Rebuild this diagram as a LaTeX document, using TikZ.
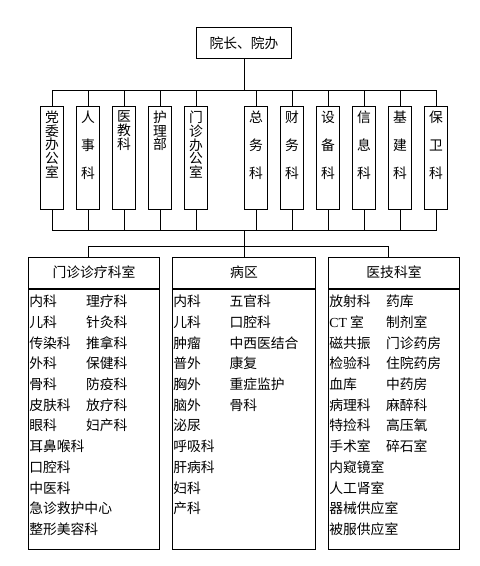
\documentclass[tikz,border=0pt]{standalone}
\usepackage{fontspec}
\setmainfont{Noto Sans CJK SC}
\newfontfamily\latinserif{Liberation Serif}

\begin{document}
\begin{tikzpicture}[x=1pt,y=-1pt,line width=1pt,
  box/.style={draw,inner sep=0,font=\fontsize{13.8}{14}\selectfont},
  vbox/.style={draw,minimum width=23pt,minimum height=103pt,inner sep=0,anchor=north},
  vtext/.style={align=center,inner sep=0,anchor=north,yshift=-5pt},
  item/.style={anchor=west,inner sep=0,text height=12.1pt,text depth=1.7pt,font=\fontsize{13.8}{14}\selectfont}]

\useasboundingbox (0,0) rectangle (480,566);

\def\rowTop{301.5}
\def\dy{20.7}

% top
\node[box,minimum width=95pt,minimum height=31pt] (head) at (244,43) {院长、院办};

% offices
\foreach \x/\t/\sp [count=\i] in {52/{党\\委\\办\\公\\室}/13.7, 88/{人\\事\\科}/28,
    124/{医\\教\\科}/13.7, 160/{护\\理\\部}/13.7, 196/{门\\诊\\办\\公\\室}/13.7,
    256/{总\\务\\科}/28, 292/{财\\务\\科}/28, 328/{设\\备\\科}/28,
    364/{信\\息\\科}/28, 400/{基\\建\\科}/28, 436/{保\\卫\\科}/28}
  \node[vbox,label={[vtext,font=\fontsize{13.8}{\sp}\selectfont]north:{\t}}] (d\i) at (\x,105.5) {};

\coordinate (busA) at (244,90.5);
\coordinate (busB) at (244,230.5);
\coordinate (busC) at (244,246.5);

\draw (head.south) -- (busA);
\draw (d1.north) |- (busA) -| (d11.north);
\draw (d1.south) |- (busB) -| (d11.south);
\foreach \i in {2,...,10} {
  \draw (d\i.north) -- (d\i.north |- busA);
  \draw (d\i.south) -- (d\i.south |- busB);
}

% three groups
\node[box,minimum width=131pt,minimum height=31pt,anchor=north] (mz) at (94,256.5) {门诊诊疗科室};
\node[draw,minimum width=131pt,minimum height=260pt,anchor=north] (mzb) at (mz.south) {};
\node[box,minimum width=143pt,minimum height=31pt,anchor=north] (bq) at (244,256.5) {病区};
\node[draw,minimum width=143pt,minimum height=260pt,anchor=north] (bqb) at (bq.south) {};
\node[box,minimum width=131pt,minimum height=31pt,anchor=north] (yj) at (394,256.5) {医技科室};
\node[draw,minimum width=131pt,minimum height=260pt,anchor=north] (yjb) at (yj.south) {};

\draw (busB) -- (bq.north);
\draw ([xshift=-5.5pt]mz.north) |- (busC) -| ([xshift=-5.5pt]yj.north);

% lists
\foreach \t [count=\i] in {内科,儿科,传染科,外科,骨科,皮肤科,眼科,耳鼻喉科,口腔科,中医科,急诊救护中心,整形美容科}
  \node[item] (mzA\i) at ([xshift=0.8pt]mzb.west |- 0,{\rowTop+(\i-1)*\dy}) {\t};
\foreach \t [count=\i] in {理疗科,针灸科,推拿科,保健科,防疫科,放疗科,妇产科}
  \node[item] (mzB\i) at ([xshift=57.5pt]mzb.west |- 0,{\rowTop+(\i-1)*\dy}) {\t};

\foreach \t [count=\i] in {内科,儿科,肿瘤,普外,胸外,脑外,泌尿,呼吸科,肝病科,妇科,产科}
  \node[item] (bqA\i) at ([xshift=0.8pt]bqb.west |- 0,{\rowTop+(\i-1)*\dy}) {\t};
\foreach \t [count=\i] in {五官科,口腔科,中西医结合,康复,重症监护,骨科}
  \node[item] (bqB\i) at ([xshift=57pt]bqb.west |- 0,{\rowTop+(\i-1)*\dy}) {\t};

\foreach \t [count=\i] in {放射科,{{\latinserif CT} 室},磁共振,检验科,血库,病理科,特捡科,手术室,内窥镜室,人工肾室,器械供应室,被服供应室}
  \node[item] (yjA\i) at ([xshift=0.8pt]yjb.west |- 0,{\rowTop+(\i-1)*\dy}) {\t};
\foreach \t [count=\i] in {药库,制剂室,门诊药房,住院药房,中药房,麻醉科,高压氧,碎石室}
  \node[item] (yjB\i) at ([xshift=57.5pt]yjb.west |- 0,{\rowTop+(\i-1)*\dy}) {\t};

\end{tikzpicture}
\end{document}
